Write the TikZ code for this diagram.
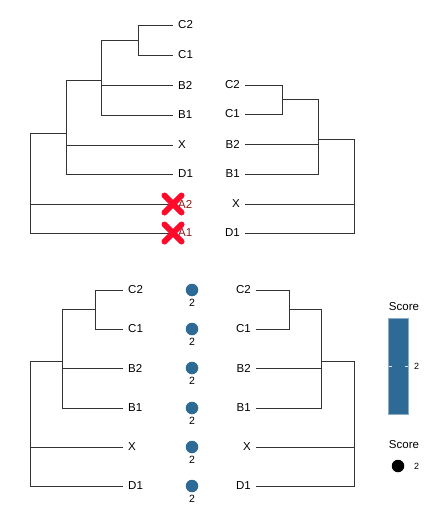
\documentclass[tikz,border=0pt]{standalone}
\usepackage{fontspec}
\setmainfont{Liberation Sans}
\usetikzlibrary{calc}
\begin{document}
\begin{tikzpicture}[x=1pt,y=-1pt,
  branch/.style={draw=black!80,line width=0.9pt},
  lbl/.style={inner sep=0pt,font=\fontsize{11.5}{13}\selectfont},
  lblL/.style={lbl,anchor=west,xshift=5pt},
  lblR/.style={lbl,anchor=east,xshift=-5pt},
  dot/.style={circle,fill=scoreblue,minimum size=12.5pt,inner sep=0pt},
  dotlbl/.style={inner sep=0pt,font=\fontsize{10.5}{12}\selectfont},
  cross/.style={draw=crossred,line width=6pt,line cap=round},
  small/.style={inner sep=0pt,font=\fontsize{9}{10}\selectfont},
  legtitle/.style={inner sep=0pt,font=\fontsize{11.5}{13}\selectfont}]
\definecolor{scoreblue}{HTML}{2D6A96}
\definecolor{crossred}{HTML}{FF0A2A}
\definecolor{darkred}{HTML}{8B1A1A}
\useasboundingbox (0,0) rectangle (434,522);
\fill[white] (0,0) rectangle (434,522);

% ===== Top-left tree =====
\coordinate (tlC2) at (173,25);
\coordinate (tlC1) at (173,55);
\coordinate (tlB2) at (173,85);
\coordinate (tlB1) at (173,115);
\coordinate (tlX) at (173,145);
\coordinate (tlD1) at (173,174);
\coordinate (tlA2) at (173,204);
\coordinate (tlA1) at (173,233);
\coordinate (tlnC) at (138,40);
\coordinate (tlnBC) at (101,80);
\coordinate (tlnXD) at (66,133);
\coordinate (tlroot) at (30,190);
\draw[branch] (tlnC) |- (tlC2);
\draw[branch] (tlnC) |- (tlC1);
\draw[branch] (tlnBC) |- (tlnC);
\draw[branch] (tlnBC) |- (tlB2);
\draw[branch] (tlnBC) |- (tlB1);
\draw[branch] (tlnXD) |- (tlnBC);
\draw[branch] (tlnXD) |- (tlX);
\draw[branch] (tlnXD) |- (tlD1);
\draw[branch] (tlroot) |- (tlnXD);
\draw[branch] (tlroot) |- (tlA2);
\draw[branch] (tlroot) |- (tlA1);
\node[lblL] (tllC2) at (tlC2) {C2};
\node[lblL] (tllC1) at (tlC1) {C1};
\node[lblL] (tllB2) at (tlB2) {B2};
\node[lblL] (tllB1) at (tlB1) {B1};
\node[lblL] (tllX) at (tlX) {X};
\node[lblL] (tllD1) at (tlD1) {D1};
\node[lblL,text=darkred] (tllA2) at (tlA2) {A2};
\node[lblL,text=darkred] (tllA1) at (tlA1) {A1};
\draw[cross] ($(tlA2)+(-8.5,-8.5)$) -- ($(tlA2)+(8.5,8.5)$) ($(tlA2)+(-8.5,8.5)$) -- ($(tlA2)+(8.5,-8.5)$);
\draw[cross] ($(tlA1)+(-8.5,-8.5)$) -- ($(tlA1)+(8.5,8.5)$) ($(tlA1)+(-8.5,8.5)$) -- ($(tlA1)+(8.5,-8.5)$);

% ===== Top-right tree =====
\coordinate (trC2) at (245,85);
\coordinate (trC1) at (245,114);
\coordinate (trB2) at (245,144);
\coordinate (trB1) at (245,174);
\coordinate (trX) at (245,204);
\coordinate (trD1) at (245,233);
\coordinate (trnC) at (282,99.5);
\coordinate (trnBC) at (318,139);
\coordinate (trroot) at (354,192);
\draw[branch] (trnC) |- (trC2);
\draw[branch] (trnC) |- (trC1);
\draw[branch] (trnBC) |- (trnC);
\draw[branch] (trnBC) |- (trB2);
\draw[branch] (trnBC) |- (trB1);
\draw[branch] (trroot) |- (trnBC);
\draw[branch] (trroot) |- (trX);
\draw[branch] (trroot) |- (trD1);
\node[lblR] (trlC2) at (trC2) {C2};
\node[lblR] (trlC1) at (trC1) {C1};
\node[lblR] (trlB2) at (trB2) {B2};
\node[lblR] (trlB1) at (trB1) {B1};
\node[lblR] (trlX) at (trX) {X};
\node[lblR] (trlD1) at (trD1) {D1};

% ===== Bottom-left tree =====
\coordinate (blC2) at (123,290);
\coordinate (blC1) at (123,329);
\coordinate (blB2) at (123,368);
\coordinate (blB1) at (123,408);
\coordinate (blX) at (123,447);
\coordinate (blD1) at (123,486);
\coordinate (blnC) at (95,309.5);
\coordinate (blnBC) at (62,361.8);
\coordinate (blroot) at (30,431.6);
\draw[branch] (blnC) |- (blC2);
\draw[branch] (blnC) |- (blC1);
\draw[branch] (blnBC) |- (blnC);
\draw[branch] (blnBC) |- (blB2);
\draw[branch] (blnBC) |- (blB1);
\draw[branch] (blroot) |- (blnBC);
\draw[branch] (blroot) |- (blX);
\draw[branch] (blroot) |- (blD1);
\node[lblL] (bllC2) at (blC2) {C2};
\node[lblL] (bllC1) at (blC1) {C1};
\node[lblL] (bllB2) at (blB2) {B2};
\node[lblL] (bllB1) at (blB1) {B1};
\node[lblL] (bllX) at (blX) {X};
\node[lblL] (bllD1) at (blD1) {D1};

% dots
\foreach \y/\n in {290/a,329/b,368/c,408/d,447/e,486/f}{
  \node[dot] (dot\n) at (192,\y) {};
  \node[dotlbl] (dotl\n) at (192,\y+13) {2};
}

% ===== Bottom-right tree =====
\coordinate (brC2) at (256,290);
\coordinate (brC1) at (256,329);
\coordinate (brB2) at (256,368);
\coordinate (brB1) at (256,408);
\coordinate (brX) at (256,447);
\coordinate (brD1) at (256,486);
\coordinate (brnC) at (289,309.5);
\coordinate (brnBC) at (321,361.8);
\coordinate (brroot) at (354,431.6);
\draw[branch] (brnC) |- (brC2);
\draw[branch] (brnC) |- (brC1);
\draw[branch] (brnBC) |- (brnC);
\draw[branch] (brnBC) |- (brB2);
\draw[branch] (brnBC) |- (brB1);
\draw[branch] (brroot) |- (brnBC);
\draw[branch] (brroot) |- (brX);
\draw[branch] (brroot) |- (brD1);
\node[lblR] (brlC2) at (brC2) {C2};
\node[lblR] (brlC1) at (brC1) {C1};
\node[lblR] (brlB2) at (brB2) {B2};
\node[lblR] (brlB1) at (brB1) {B1};
\node[lblR] (brlX) at (brX) {X};
\node[lblR] (brlD1) at (brD1) {D1};

% ===== Legends =====
\node[legtitle] (leg1t) at (404,307) {Score};
\draw[fill=scoreblue,draw=scoreblue!55!white,line width=0.6pt] (388.5,318) rectangle (408,414);
\draw[white!85!scoreblue,line width=0.8pt] (388.5,366) -- (392,366) (404.5,366) -- (408,366);
\node[small,anchor=west] (leg1v) at (414,366) {2};
\node[legtitle] (leg2t) at (404,445) {Score};
\node[circle,fill=black,minimum size=12.5pt,inner sep=0pt] (leg2d) at (398,466) {};
\node[small,anchor=west] (leg2v) at (414,466) {2};
\end{tikzpicture}
\end{document}
